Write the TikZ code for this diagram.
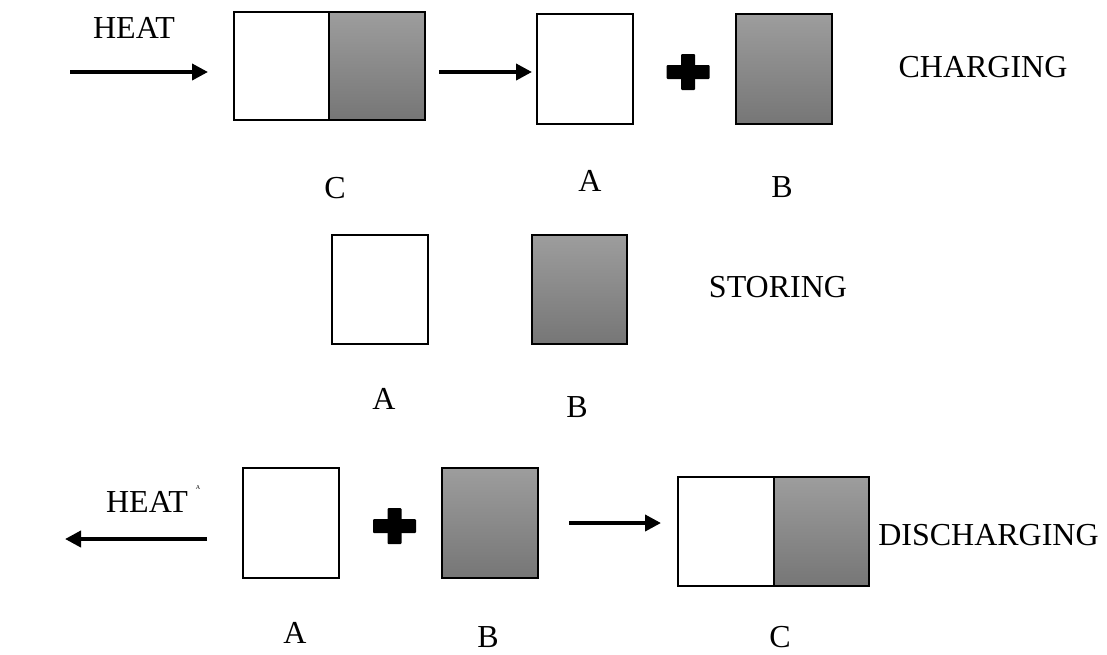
\documentclass[tikz,border=0pt]{standalone}
\usepackage{fontspec}
\setmainfont{Liberation Serif}
\usepackage{xcolor}
\usepackage{tikz}
\usetikzlibrary{arrows.meta, positioning}

\definecolor{graytop}{RGB}{157,157,157}
\definecolor{graybot}{RGB}{118,118,118}

\begin{document}
\begin{tikzpicture}[x=1pt, y=-1pt,
    box/.style={draw, line width=1.6pt, minimum width=96pt, minimum height=110pt, inner sep=0pt, outer sep=0pt, fill=white},
    filled/.style={box, top color=graytop, bottom color=graybot},
    txt/.style={font=\fontsize{32}{38}\selectfont, inner sep=0pt},
    arrow/.style={-{Triangle[length=16pt, width=16pt]}, line width=3.8pt},
    plussign/.pic={\fill[rounded corners=1pt] (-21.5,-7) rectangle (21.5,7); \fill[rounded corners=1pt] (-7,-18) rectangle (7,18);}
]
    \useasboundingbox (0,0) rectangle (1107,654);

    % charging
    \node[txt] at (134,28) (heat1) {HEAT};
    \coordinate (in1) at (70,72);
    \node[box, minimum width=95pt, minimum height=108pt] at (281.5,66) (c1l) {};
    \node[filled, minimum height=108pt, right=0pt of c1l] (c1r) {};
    \node[box] at (585,69) (a1) {};
    \pic at (688,72) {plussign};
    \node[filled] at (784,69) (b1) {};
    \node[txt] at (983,67) (chg) {CHARGING};
    \node[txt] at (335,188) (c1lab) {C};
    \node[txt] at (590,181) (a1lab) {A};
    \node[txt] at (782,187) (b1lab) {B};
    \draw[arrow, shorten >=26pt] (in1) -- (in1 -| c1l.west);
    \draw[arrow, shorten <=14pt, shorten >=5pt] (in1 -| c1r.east) -- (in1 -| a1.west);

    % storing
    \node[box, minimum height=109pt] at (380,289.5) (a2) {};
    \node[filled, minimum width=95pt, minimum height=109pt] at (579.5,289.5) (b2) {};
    \node[txt] at (778,287) (sto) {STORING};
    \node[txt] at (384,399) (a2lab) {A};
    \node[txt] at (577,407) (b2lab) {B};

    % discharging
    \node[txt] at (147,502) (heat3) {HEAT};
    \node[font=\fontsize{6}{6}\selectfont, inner sep=0pt] at (198,488) (hmark) {A};
    \coordinate (out3) at (65,539);
    \node[box] at (291,523) (a3) {};
    \pic at (394.5,526) {plussign};
    \node[filled] at (490,523) (b3) {};
    \node[box, minimum height=109pt] at (726,531.5) (c3l) {};
    \node[filled, minimum width=95pt, minimum height=109pt, right=0pt of c3l] (c3r) {};
    \node[txt] at (988.5,535) (dis) {DISCHARGING};
    \node[txt] at (295,633) (a3lab) {A};
    \node[txt] at (488,637) (b3lab) {B};
    \node[txt] at (780,637) (c3lab) {C};
    \draw[arrow, shorten <=36pt] (out3 -| a3.west) -- (out3);
    \draw[arrow, shorten <=31pt, shorten >=17pt] (b3.east) -- (b3.east -| c3l.west);
\end{tikzpicture}
\end{document}
